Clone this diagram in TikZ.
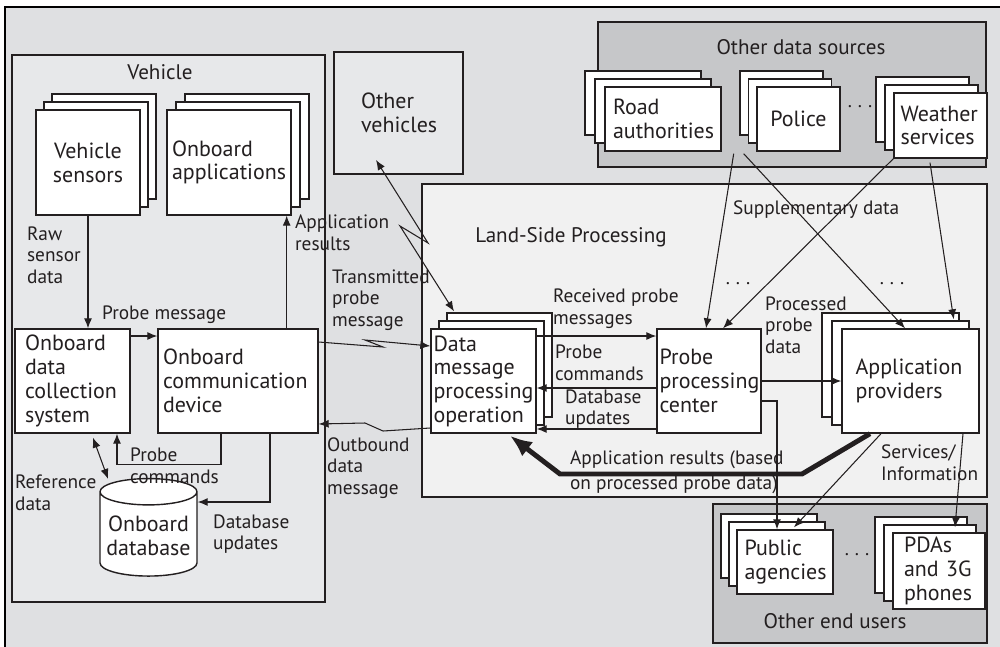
\documentclass[tikz,border=0pt]{standalone}
\usepackage{fontspec}
\setmainfont{PT Sans}
\usetikzlibrary{arrows.meta,positioning,shapes.geometric,shadows,calc}
\definecolor{framegray}{HTML}{DFE0E2}
\definecolor{panelgray}{HTML}{E7E8EA}
\definecolor{landgray}{HTML}{F1F1F1}
\definecolor{darkpanel}{HTML}{C6C7C9}
\definecolor{ink}{HTML}{231F20}
\newcommand\boxfont{\fontsize{12.5}{13.5}\selectfont}
\newcommand\labfont{\fontsize{11}{12.3}\selectfont}
\newcommand\ttlfont{\fontsize{12}{13}\selectfont}
\tikzset{
  panel/.style   ={draw=ink,line width=0.8pt,fill=panelgray,inner sep=0pt},
  darkpanel/.style={panel,fill=darkpanel},
  box/.style     ={draw=ink,line width=0.8pt,fill=white,font=\boxfont,text=ink,inner sep=2pt},
  lbox/.style    ={box,align=left},
  cbox/.style    ={box,align=center},
  stack/.style   ={double copy shadow={shadow xshift=#1,shadow yshift=0.16cm,fill=white,draw=ink,line width=0.8pt,opacity=1}},
  ttl/.style     ={font=\ttlfont,text=ink},
  note/.style    ={font=\labfont,text=ink,align=left,anchor=west,inner sep=1pt},
  arrow/.style   ={-{Latex[length=2mm,width=1.6mm]},line width=0.6pt,draw=ink},
  dblarrow/.style={{Latex[length=2mm,width=1.6mm]}-{Latex[length=2mm,width=1.6mm]},line width=0.6pt,draw=ink},
  bigarrow/.style={-{Latex[length=4.4mm,width=3.6mm]},line width=2.8pt,draw=ink}
}

\begin{document}
\begin{tikzpicture}[x=0.02cm,y=-0.02cm]
    \useasboundingbox (0,0) rectangle (1000,646);
    \draw[line width=0.8pt,fill=framegray] (5,7) rectangle (1010,660);

    \node[panel,minimum width=6.26cm,minimum height=10.94cm] (veh) at (168.5,328.5) {};
    \node[panel,minimum width=2.58cm,minimum height=2.44cm,font=\boxfont,text=ink,align=left,text width=1.5cm] (othveh) at (398.5,113) {Other\\vehicles};
    \node[panel,fill=landgray,minimum width=11.30cm,minimum height=6.26cm] (land) at (704.5,340.5) {};
    \node[darkpanel,minimum width=7.76cm,minimum height=2.90cm] (srcs) at (792,94.5) {};
    \node[darkpanel,minimum width=5.48cm,minimum height=2.78cm] (users) at (850,573.5) {};

    \node[ttl] (vehttl)   at (160,72)  {Vehicle};
    \node[ttl] (srcsttl)  at (801,47)  {Other data sources};
    \node[ttl] (landttl)  at (571,237) {Land-Side Processing};
    \node[ttl] (usersttl) at (835,621) {Other end users};

    \node[cbox,stack=0.16cm,minimum width=2.08cm,minimum height=2.1cm] (vsens) at (88,162.5) {Vehicle\\sensors};
    \node[lbox,stack=0.18cm,minimum width=2.48cm,minimum height=2.1cm,text width=2.28cm] (oapps) at (229,162.5) {Onboard\\applications};
    \node[lbox,minimum width=2.3cm,minimum height=2.08cm,text width=1.9cm] (ocoll) at (72.5,381) {Onboard\\data\\collection\\system};
    \node[lbox,minimum width=3.2cm,minimum height=2.08cm,text width=3.0cm] (ocomm) at (238,381) {Onboard\\communication\\device};
    \node[box,cylinder,shape border rotate=90,aspect=0.3,align=center,minimum width=1.94cm,minimum height=1.95cm,inner sep=1pt] (odb) at (148.5,536) {Onboard\\database};

    \node[lbox,stack=0.16cm,minimum width=2.1cm,minimum height=2.08cm,text width=2.0cm,inner sep=1pt] (dmp) at (483.5,381) {Data\\message\\processing\\operation};
    \node[lbox,minimum width=2.08cm,minimum height=2.08cm,text width=1.98cm,inner sep=1pt] (ppc) at (709,381) {Probe\\processing\\center};
    \node[lbox,stack=-0.2cm,minimum width=2.74cm,minimum height=2.08cm,text width=2.2cm] (appprov) at (910.5,381) {Application\\providers};

    \node[lbox,stack=-0.2cm,minimum width=2.32cm,minimum height=1.28cm,text width=2.0cm] (road) at (663,119) {Road\\authorities};
    \node[cbox,stack=-0.17cm,minimum width=1.66cm,minimum height=1.28cm] (police) at (798.5,119) {Police};
    \node[lbox,stack=-0.18cm,minimum width=1.86cm,minimum height=1.3cm,text width=1.6cm] (weather) at (940.5,125.5) {Weather\\services};
    \node[lbox,stack=-0.16cm,minimum width=1.92cm,minimum height=1.28cm,text width=1.62cm] (public) at (785,562) {Public\\agencies};
    \node[lbox,stack=-0.18cm,minimum width=1.84cm,minimum height=1.52cm,text width=1.4cm] (pdas) at (939,571) {PDAs\\and 3G\\phones};

    \foreach \name/\x/\y in {dotsa/860/107, dotsb/738/284, dotsc/892/284, dotsd/857/555}
      \node[font=\labfont,text=ink] (\name) at (\x,\y) {.\hspace{1.2mm}.\hspace{1.2mm}.};

    \node[note] (rawlbl)   at (25,255)  {Raw\\sensor\\data};
    \node[note] (pmsglbl)  at (100,315) {Probe message};
    \node[note] (appreslbl) at (293,233) {Application\\results};
    \node[note] (txlbl)    at (330,300) {Transmitted\\probe\\message};
    \node[note] (outlbl)   at (325,468) {Outbound\\data\\message};
    \node[note] (pcmdlbl)  at (128,466) {Probe\\commands};
    \node[note] (dbuplbl)  at (211,534) {Database\\updates};
    \node[note] (reflbl)   at (13,493)  {Reference\\data};
    \node[note] (rcvlbl)   at (551,309) {Received probe\\messages};
    \node[note] (pcmdlbl2) at (553,363) {Probe\\commands};
    \node[note] (dbuplbl2) at (563,409) {Database\\updates};
    \node[note] (proclbl)  at (763,325) {Processed\\probe\\data};
    \node[note] (supplbl)  at (731,210) {Supplementary data};
    \node[note] (svclbl)   at (879,463) {Services/\\Information};
    \node[note] (bigreslbl) at (568,472) {Application results (based\\[2pt]on processed probe data)};

    \draw[arrow] (vsens.south) -- (vsens.south |- ocoll.north);
    \draw[arrow] ([yshift=0.9cm]ocoll.east) -- ([yshift=0.9cm]ocomm.west);
    \draw[arrow] ([xshift=-0.64cm]ocomm.north east) -- ([xshift=-0.64cm]ocomm.north east |- oapps.south);
    \draw[arrow] ([xshift=-0.34cm]ocomm.south) -- ++(0,31) -| ([xshift=0.89cm]ocoll.south);
    \draw[arrow] ([xshift=0.64cm]ocomm.south) |- ([yshift=0.68cm]odb.east);
    \draw[dblarrow] ([xshift=0.41cm,yshift=-0.08cm]ocoll.south) -- ([xshift=-0.81cm,yshift=-0.02cm]odb.north);

    \draw[arrow] ([yshift=0.78cm]ocomm.east) -- (383,347) -- (365,340) -- ([yshift=0.7cm]dmp.west);
    \draw[arrow] ([yshift=-0.94cm]dmp.west) -- (383,431) -- (365,423) -- ([yshift=-0.86cm]ocomm.east);
    \draw[dblarrow] ([xshift=-0.45cm,yshift=-0.94cm]othveh.center) -- (428,243) -- (400,226) -- ([xshift=-0.59cm,yshift=0.34cm]dmp.north);

    \draw[arrow] ([yshift=0.9cm]dmp.east) -- ([yshift=0.9cm]ppc.west);
    \draw[arrow] ([yshift=-0.14cm]ppc.west) -- ([yshift=-0.14cm]dmp.east);
    \draw[arrow] ([yshift=-0.96cm]ppc.west) -- ([yshift=-0.96cm]dmp.east);
    \draw[arrow] (ppc.east) -- (appprov.west);
    \draw[arrow] ([yshift=-0.4cm]ppc.east) -| ([xshift=-0.16cm]public.north);
    \draw[arrow] ([xshift=-0.59cm]appprov.south) -- ([xshift=0.18cm,yshift=0.04cm]public.north);
    \draw[arrow] ([xshift=1.05cm]appprov.south) -- ([xshift=0.32cm,yshift=0.1cm]pdas.north);
    \draw[bigarrow] ([xshift=-0.81cm]appprov.south) -- (802,474) -- (560,474) -- ([xshift=0.53cm,yshift=-0.04cm]dmp.south);

    \draw[arrow] ([xshift=0.24cm,yshift=-0.04cm]road.south east) -- ([xshift=-0.06cm]ppc.north);
    \draw[arrow] ([xshift=0.44cm,yshift=-0.04cm]road.south east) -- ([xshift=-0.11cm]appprov.north);
    \draw[arrow] (weather.south west) -- ([xshift=0.28cm]ppc.north);
    \draw[arrow] ([xshift=-0.21cm,yshift=-0.08cm]weather.south) -- ([xshift=-0.52cm,yshift=0.18cm]appprov.north east);
\end{tikzpicture}
\end{document}
